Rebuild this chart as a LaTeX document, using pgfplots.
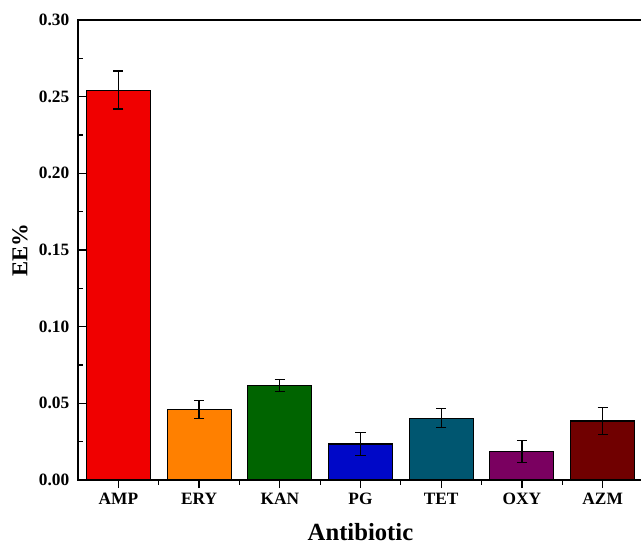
\documentclass[border=0pt]{standalone}
\usepackage{pgfplots}
\pgfplotsset{compat=1.18}
\usepackage{fontspec}
\setmainfont{Liberation Serif}

\definecolor{cAMP}{RGB}{240,0,0}
\definecolor{cERY}{RGB}{255,128,0}
\definecolor{cKAN}{RGB}{0,100,0}
\definecolor{cPG}{RGB}{0,8,200}
\definecolor{cTET}{RGB}{0,86,112}
\definecolor{cOXY}{RGB}{122,0,96}
\definecolor{cAZM}{RGB}{112,0,0}

\begin{document}
\begin{tikzpicture}
\clip (-58.5pt,-48.75pt) rectangle (422.25pt,360pt);
\begin{axis}[
  at={(0,0)}, anchor=south west,
  scale only axis,
  width=423.75pt, height=345pt,
  xmin=-0.5, xmax=6.5,
  ymin=0, ymax=0.30,
  axis on top,
  axis line style={line width=1.1pt},
  tick align=inside,
  xtick pos=bottom, ytick pos=left,
  xtick={0,1,2,3,4,5,6},
  xticklabels={AMP,ERY,KAN,PG,TET,OXY,AZM},
  minor xtick={0.5,1.5,2.5,3.5,4.5,5.5},
  ytick={0,0.05,0.10,0.15,0.20,0.25,0.30},
  minor y tick num=1,
  major tick length=6pt,
  minor tick length=3.5pt,
  every tick/.style={black, line width=0.9pt},
  /pgf/number format/assume math mode=true,
  /pgf/number format/.cd, fixed, fixed zerofill, precision=2,
  /pgfplots/.cd,
  tick label style={font=\fontsize{13pt}{15pt}\selectfont\bfseries},
  yticklabel style={xshift=-3pt},
  xticklabel style={yshift=-0.5pt},
  xlabel={Antibiotic},
  ylabel={EE\%},
  xlabel style={font=\fontsize{18.5pt}{20pt}\selectfont\bfseries,
    at={(axis description cs:0.5,0)}, anchor=base, yshift=-45pt},
  ylabel style={font=\fontsize{17pt}{19pt}\selectfont\bfseries,
    at={(axis description cs:0,0.5)}, anchor=center, yshift=43.5pt},
  ybar, bar width=48pt, bar shift=0pt,
  error bars/y dir=both, error bars/y explicit,
  error bars/error bar style={black, line width=0.9pt},
  error bars/error mark options={rotate=90, black, mark size=3.8pt, line width=0.9pt},
]
\addplot[fill=cAMP, draw=black, line width=0.8pt] coordinates {(0,0.2543) +- (0,0.0124)};
\addplot[fill=cERY, draw=black, line width=0.8pt] coordinates {(1,0.0461) +- (0,0.0058)};
\addplot[fill=cKAN, draw=black, line width=0.8pt] coordinates {(2,0.0615) +- (0,0.0039)};
\addplot[fill=cPG,  draw=black, line width=0.8pt] coordinates {(3,0.0235) +- (0,0.0073)};
\addplot[fill=cTET, draw=black, line width=0.8pt] coordinates {(4,0.0404) +- (0,0.0063)};
\addplot[fill=cOXY, draw=black, line width=0.8pt] coordinates {(5,0.0187) +- (0,0.0072)};
\addplot[fill=cAZM, draw=black, line width=0.8pt] coordinates {(6,0.0385) +- (0,0.0086)};
\end{axis}
\end{tikzpicture}
\end{document}
